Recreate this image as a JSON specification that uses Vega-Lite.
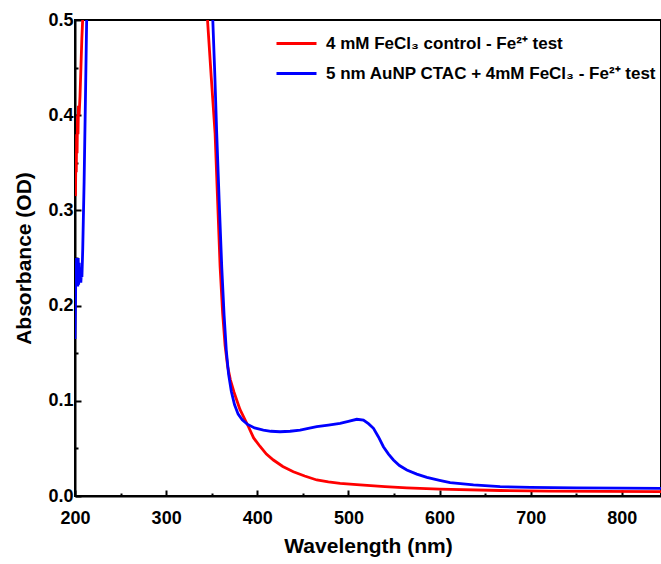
{
  "$schema": "https://vega.github.io/schema/vega-lite/v6.json",
  "width": 586,
  "height": 476,
  "autosize": {"type": "none"},
  "padding": {"left": 75, "top": 20, "right": 0, "bottom": 68},
  "background": "white",
  "config": {
    "view": {"stroke": "black", "strokeWidth": 2},
    "font": "Liberation Sans"
  },
  "datasets": {
    "spectra": [
      {"series": "4 mM FeCl₃ control - Fe²⁺ test", "nm": 200.5, "abs": 0.315},
      {"series": "4 mM FeCl₃ control - Fe²⁺ test", "nm": 201.0, "abs": 0.36},
      {"series": "4 mM FeCl₃ control - Fe²⁺ test", "nm": 201.4, "abs": 0.34},
      {"series": "4 mM FeCl₃ control - Fe²⁺ test", "nm": 201.8, "abs": 0.38},
      {"series": "4 mM FeCl₃ control - Fe²⁺ test", "nm": 202.3, "abs": 0.36},
      {"series": "4 mM FeCl₃ control - Fe²⁺ test", "nm": 202.8, "abs": 0.40},
      {"series": "4 mM FeCl₃ control - Fe²⁺ test", "nm": 203.3, "abs": 0.38},
      {"series": "4 mM FeCl₃ control - Fe²⁺ test", "nm": 203.8, "abs": 0.41},
      {"series": "4 mM FeCl₃ control - Fe²⁺ test", "nm": 204.5, "abs": 0.40},
      {"series": "4 mM FeCl₃ control - Fe²⁺ test", "nm": 205.5, "abs": 0.42},
      {"series": "4 mM FeCl₃ control - Fe²⁺ test", "nm": 206.5, "abs": 0.45},
      {"series": "4 mM FeCl₃ control - Fe²⁺ test", "nm": 207.5, "abs": 0.48},
      {"series": "4 mM FeCl₃ control - Fe²⁺ test", "nm": 208.4, "abs": 0.5},
      {"series": "4 mM FeCl₃ control - Fe²⁺ test", "nm": 209.5, "abs": 0.6},
      {"series": "4 mM FeCl₃ control - Fe²⁺ test", "nm": 211, "abs": 0.9},
      {"series": "4 mM FeCl₃ control - Fe²⁺ test", "nm": 215, "abs": 2.0},
      {"series": "4 mM FeCl₃ control - Fe²⁺ test", "nm": 300, "abs": 3.0},
      {"series": "4 mM FeCl₃ control - Fe²⁺ test", "nm": 340, "abs": 2.0},
      {"series": "4 mM FeCl₃ control - Fe²⁺ test", "nm": 343, "abs": 0.7},
      {"series": "4 mM FeCl₃ control - Fe²⁺ test", "nm": 345.4, "abs": 0.5},
      {"series": "4 mM FeCl₃ control - Fe²⁺ test", "nm": 349.5, "abs": 0.44},
      {"series": "4 mM FeCl₃ control - Fe²⁺ test", "nm": 353.7, "abs": 0.381},
      {"series": "4 mM FeCl₃ control - Fe²⁺ test", "nm": 356.5, "abs": 0.31},
      {"series": "4 mM FeCl₃ control - Fe²⁺ test", "nm": 359.2, "abs": 0.241},
      {"series": "4 mM FeCl₃ control - Fe²⁺ test", "nm": 362, "abs": 0.192},
      {"series": "4 mM FeCl₃ control - Fe²⁺ test", "nm": 364.7, "abs": 0.158},
      {"series": "4 mM FeCl₃ control - Fe²⁺ test", "nm": 367.5, "abs": 0.136},
      {"series": "4 mM FeCl₃ control - Fe²⁺ test", "nm": 370.5, "abs": 0.122},
      {"series": "4 mM FeCl₃ control - Fe²⁺ test", "nm": 374.5, "abs": 0.109},
      {"series": "4 mM FeCl₃ control - Fe²⁺ test", "nm": 381, "abs": 0.091},
      {"series": "4 mM FeCl₃ control - Fe²⁺ test", "nm": 390.2, "abs": 0.073},
      {"series": "4 mM FeCl₃ control - Fe²⁺ test", "nm": 396, "abs": 0.061},
      {"series": "4 mM FeCl₃ control - Fe²⁺ test", "nm": 403.1, "abs": 0.052},
      {"series": "4 mM FeCl₃ control - Fe²⁺ test", "nm": 410, "abs": 0.044},
      {"series": "4 mM FeCl₃ control - Fe²⁺ test", "nm": 417.7, "abs": 0.0378},
      {"series": "4 mM FeCl₃ control - Fe²⁺ test", "nm": 428, "abs": 0.031},
      {"series": "4 mM FeCl₃ control - Fe²⁺ test", "nm": 439.6, "abs": 0.0255},
      {"series": "4 mM FeCl₃ control - Fe²⁺ test", "nm": 452, "abs": 0.021},
      {"series": "4 mM FeCl₃ control - Fe²⁺ test", "nm": 465.3, "abs": 0.0168},
      {"series": "4 mM FeCl₃ control - Fe²⁺ test", "nm": 478, "abs": 0.0148},
      {"series": "4 mM FeCl₃ control - Fe²⁺ test", "nm": 490.9, "abs": 0.0133},
      {"series": "4 mM FeCl₃ control - Fe²⁺ test", "nm": 512.8, "abs": 0.0116},
      {"series": "4 mM FeCl₃ control - Fe²⁺ test", "nm": 540, "abs": 0.0098},
      {"series": "4 mM FeCl₃ control - Fe²⁺ test", "nm": 564.1, "abs": 0.0085},
      {"series": "4 mM FeCl₃ control - Fe²⁺ test", "nm": 600, "abs": 0.0072},
      {"series": "4 mM FeCl₃ control - Fe²⁺ test", "nm": 666.5, "abs": 0.0058},
      {"series": "4 mM FeCl₃ control - Fe²⁺ test", "nm": 720, "abs": 0.0052},
      {"series": "4 mM FeCl₃ control - Fe²⁺ test", "nm": 780, "abs": 0.0048},
      {"series": "4 mM FeCl₃ control - Fe²⁺ test", "nm": 843, "abs": 0.0045},

      {"series": "5 nm AuNP CTAC + 4mM FeCl₃ - Fe²⁺ test", "nm": 200.0, "abs": 0.165},
      {"series": "5 nm AuNP CTAC + 4mM FeCl₃ - Fe²⁺ test", "nm": 200.5, "abs": 0.2},
      {"series": "5 nm AuNP CTAC + 4mM FeCl₃ - Fe²⁺ test", "nm": 201.0, "abs": 0.245},
      {"series": "5 nm AuNP CTAC + 4mM FeCl₃ - Fe²⁺ test", "nm": 201.3, "abs": 0.22},
      {"series": "5 nm AuNP CTAC + 4mM FeCl₃ - Fe²⁺ test", "nm": 201.7, "abs": 0.25},
      {"series": "5 nm AuNP CTAC + 4mM FeCl₃ - Fe²⁺ test", "nm": 202.1, "abs": 0.222},
      {"series": "5 nm AuNP CTAC + 4mM FeCl₃ - Fe²⁺ test", "nm": 202.5, "abs": 0.248},
      {"series": "5 nm AuNP CTAC + 4mM FeCl₃ - Fe²⁺ test", "nm": 203.0, "abs": 0.22},
      {"series": "5 nm AuNP CTAC + 4mM FeCl₃ - Fe²⁺ test", "nm": 203.5, "abs": 0.25},
      {"series": "5 nm AuNP CTAC + 4mM FeCl₃ - Fe²⁺ test", "nm": 204.0, "abs": 0.222},
      {"series": "5 nm AuNP CTAC + 4mM FeCl₃ - Fe²⁺ test", "nm": 204.6, "abs": 0.245},
      {"series": "5 nm AuNP CTAC + 4mM FeCl₃ - Fe²⁺ test", "nm": 205.2, "abs": 0.225},
      {"series": "5 nm AuNP CTAC + 4mM FeCl₃ - Fe²⁺ test", "nm": 205.8, "abs": 0.24},
      {"series": "5 nm AuNP CTAC + 4mM FeCl₃ - Fe²⁺ test", "nm": 206.4, "abs": 0.224},
      {"series": "5 nm AuNP CTAC + 4mM FeCl₃ - Fe²⁺ test", "nm": 207.0, "abs": 0.235},
      {"series": "5 nm AuNP CTAC + 4mM FeCl₃ - Fe²⁺ test", "nm": 207.6, "abs": 0.23},
      {"series": "5 nm AuNP CTAC + 4mM FeCl₃ - Fe²⁺ test", "nm": 208.5, "abs": 0.26},
      {"series": "5 nm AuNP CTAC + 4mM FeCl₃ - Fe²⁺ test", "nm": 210.0, "abs": 0.33},
      {"series": "5 nm AuNP CTAC + 4mM FeCl₃ - Fe²⁺ test", "nm": 211.5, "abs": 0.42},
      {"series": "5 nm AuNP CTAC + 4mM FeCl₃ - Fe²⁺ test", "nm": 212.8, "abs": 0.5},
      {"series": "5 nm AuNP CTAC + 4mM FeCl₃ - Fe²⁺ test", "nm": 214, "abs": 0.7},
      {"series": "5 nm AuNP CTAC + 4mM FeCl₃ - Fe²⁺ test", "nm": 217, "abs": 1.5},
      {"series": "5 nm AuNP CTAC + 4mM FeCl₃ - Fe²⁺ test", "nm": 300, "abs": 3.0},
      {"series": "5 nm AuNP CTAC + 4mM FeCl₃ - Fe²⁺ test", "nm": 345, "abs": 1.5},
      {"series": "5 nm AuNP CTAC + 4mM FeCl₃ - Fe²⁺ test", "nm": 348.5, "abs": 0.7},
      {"series": "5 nm AuNP CTAC + 4mM FeCl₃ - Fe²⁺ test", "nm": 351.2, "abs": 0.5},
      {"series": "5 nm AuNP CTAC + 4mM FeCl₃ - Fe²⁺ test", "nm": 353.5, "abs": 0.44},
      {"series": "5 nm AuNP CTAC + 4mM FeCl₃ - Fe²⁺ test", "nm": 355.5, "abs": 0.381},
      {"series": "5 nm AuNP CTAC + 4mM FeCl₃ - Fe²⁺ test", "nm": 358.2, "abs": 0.31},
      {"series": "5 nm AuNP CTAC + 4mM FeCl₃ - Fe²⁺ test", "nm": 361.0, "abs": 0.241},
      {"series": "5 nm AuNP CTAC + 4mM FeCl₃ - Fe²⁺ test", "nm": 363.6, "abs": 0.19},
      {"series": "5 nm AuNP CTAC + 4mM FeCl₃ - Fe²⁺ test", "nm": 366, "abs": 0.153},
      {"series": "5 nm AuNP CTAC + 4mM FeCl₃ - Fe²⁺ test", "nm": 368.5, "abs": 0.128},
      {"series": "5 nm AuNP CTAC + 4mM FeCl₃ - Fe²⁺ test", "nm": 371.5, "abs": 0.11},
      {"series": "5 nm AuNP CTAC + 4mM FeCl₃ - Fe²⁺ test", "nm": 375, "abs": 0.096},
      {"series": "5 nm AuNP CTAC + 4mM FeCl₃ - Fe²⁺ test", "nm": 379, "abs": 0.086},
      {"series": "5 nm AuNP CTAC + 4mM FeCl₃ - Fe²⁺ test", "nm": 383.5, "abs": 0.08},
      {"series": "5 nm AuNP CTAC + 4mM FeCl₃ - Fe²⁺ test", "nm": 389, "abs": 0.0755},
      {"series": "5 nm AuNP CTAC + 4mM FeCl₃ - Fe²⁺ test", "nm": 397, "abs": 0.0715},
      {"series": "5 nm AuNP CTAC + 4mM FeCl₃ - Fe²⁺ test", "nm": 406.7, "abs": 0.0693},
      {"series": "5 nm AuNP CTAC + 4mM FeCl₃ - Fe²⁺ test", "nm": 415, "abs": 0.068},
      {"series": "5 nm AuNP CTAC + 4mM FeCl₃ - Fe²⁺ test", "nm": 425, "abs": 0.0675},
      {"series": "5 nm AuNP CTAC + 4mM FeCl₃ - Fe²⁺ test", "nm": 436, "abs": 0.068},
      {"series": "5 nm AuNP CTAC + 4mM FeCl₃ - Fe²⁺ test", "nm": 447, "abs": 0.0693},
      {"series": "5 nm AuNP CTAC + 4mM FeCl₃ - Fe²⁺ test", "nm": 456, "abs": 0.071},
      {"series": "5 nm AuNP CTAC + 4mM FeCl₃ - Fe²⁺ test", "nm": 465.3, "abs": 0.0728},
      {"series": "5 nm AuNP CTAC + 4mM FeCl₃ - Fe²⁺ test", "nm": 478, "abs": 0.0745},
      {"series": "5 nm AuNP CTAC + 4mM FeCl₃ - Fe²⁺ test", "nm": 490.9, "abs": 0.0764},
      {"series": "5 nm AuNP CTAC + 4mM FeCl₃ - Fe²⁺ test", "nm": 500, "abs": 0.0785},
      {"series": "5 nm AuNP CTAC + 4mM FeCl₃ - Fe²⁺ test", "nm": 509.2, "abs": 0.0806},
      {"series": "5 nm AuNP CTAC + 4mM FeCl₃ - Fe²⁺ test", "nm": 516.5, "abs": 0.0798},
      {"series": "5 nm AuNP CTAC + 4mM FeCl₃ - Fe²⁺ test", "nm": 522, "abs": 0.076},
      {"series": "5 nm AuNP CTAC + 4mM FeCl₃ - Fe²⁺ test", "nm": 527.5, "abs": 0.0711},
      {"series": "5 nm AuNP CTAC + 4mM FeCl₃ - Fe²⁺ test", "nm": 533, "abs": 0.062},
      {"series": "5 nm AuNP CTAC + 4mM FeCl₃ - Fe²⁺ test", "nm": 538.4, "abs": 0.0518},
      {"series": "5 nm AuNP CTAC + 4mM FeCl₃ - Fe²⁺ test", "nm": 544, "abs": 0.044},
      {"series": "5 nm AuNP CTAC + 4mM FeCl₃ - Fe²⁺ test", "nm": 549.4, "abs": 0.0378},
      {"series": "5 nm AuNP CTAC + 4mM FeCl₃ - Fe²⁺ test", "nm": 556, "abs": 0.032},
      {"series": "5 nm AuNP CTAC + 4mM FeCl₃ - Fe²⁺ test", "nm": 564.1, "abs": 0.0273},
      {"series": "5 nm AuNP CTAC + 4mM FeCl₃ - Fe²⁺ test", "nm": 575, "abs": 0.023},
      {"series": "5 nm AuNP CTAC + 4mM FeCl₃ - Fe²⁺ test", "nm": 586.1, "abs": 0.0196},
      {"series": "5 nm AuNP CTAC + 4mM FeCl₃ - Fe²⁺ test", "nm": 600, "abs": 0.0165},
      {"series": "5 nm AuNP CTAC + 4mM FeCl₃ - Fe²⁺ test", "nm": 611.6, "abs": 0.014},
      {"series": "5 nm AuNP CTAC + 4mM FeCl₃ - Fe²⁺ test", "nm": 637.2, "abs": 0.0116},
      {"series": "5 nm AuNP CTAC + 4mM FeCl₃ - Fe²⁺ test", "nm": 666.5, "abs": 0.0098},
      {"series": "5 nm AuNP CTAC + 4mM FeCl₃ - Fe²⁺ test", "nm": 700, "abs": 0.009},
      {"series": "5 nm AuNP CTAC + 4mM FeCl₃ - Fe²⁺ test", "nm": 750, "abs": 0.0085},
      {"series": "5 nm AuNP CTAC + 4mM FeCl₃ - Fe²⁺ test", "nm": 800, "abs": 0.0082},
      {"series": "5 nm AuNP CTAC + 4mM FeCl₃ - Fe²⁺ test", "nm": 843, "abs": 0.008}
    ]
  },
  "data": {"name": "spectra"},
  "mark": {"type": "line", "clip": true, "strokeWidth": 2.8},
  "encoding": {
    "x": {
      "field": "nm",
      "type": "quantitative",
      "scale": {"domain": [200, 843], "nice": false, "zero": false},
      "axis": {
        "title": "Wavelength (nm)",
        "values": [200, 250, 300, 350, 400, 450, 500, 550, 600, 650, 700, 750, 800],
        "labelExpr": "datum.value % 100 == 0 ? datum.label : ''",
        "format": "d",
        "grid": false,
        "domainColor": "black",
        "domainWidth": 2,
        "tickColor": "black",
        "tickWidth": 2,
        "tickSize": {"condition": {"test": "datum.value % 100 != 0", "value": -3}, "value": -6},
        "labelFont": "Liberation Sans",
        "labelFontWeight": "bold",
        "labelFontSize": 18,
        "labelColor": "black",
        "labelPadding": 19,
        "labelFlush": false,
        "labelOverlap": false,
        "titleFont": "Liberation Sans",
        "titleFontWeight": "bold",
        "titleFontSize": 21,
        "titleColor": "black",
        "titlePadding": 5
      }
    },
    "y": {
      "field": "abs",
      "type": "quantitative",
      "scale": {"domain": [0, 0.5], "nice": false},
      "axis": {
        "title": "Absorbance (OD)",
        "values": [0, 0.05, 0.1, 0.15, 0.2, 0.25, 0.3, 0.35, 0.4, 0.45, 0.5],
        "labelExpr": "round(datum.value * 100) % 10 == 0 ? format(datum.value, '.1f') : ''",
        "grid": false,
        "domainColor": "black",
        "domainWidth": 2,
        "tickColor": "black",
        "tickWidth": 2,
        "tickSize": {"condition": {"test": "round(datum.value * 100) % 10 != 0", "value": -3}, "value": -6},
        "labelFont": "Liberation Sans",
        "labelFontWeight": "bold",
        "labelFontSize": 18,
        "labelColor": "black",
        "labelPadding": 8,
        "labelFlush": false,
        "labelOverlap": false,
        "titleFont": "Liberation Sans",
        "titleFontWeight": "bold",
        "titleFontSize": 21,
        "titleColor": "black",
        "titlePadding": 13
      }
    },
    "color": {
      "field": "series",
      "type": "nominal",
      "scale": {
        "domain": ["4 mM FeCl₃ control - Fe²⁺ test", "5 nm AuNP CTAC + 4mM FeCl₃ - Fe²⁺ test"],
        "range": ["#ff0000", "#0000ff"]
      },
      "legend": {
        "title": null,
        "orient": "none",
        "legendX": 200,
        "legendY": 2,
        "symbolType": "stroke",
        "symbolSize": 1600,
        "symbolStrokeWidth": 3,
        "labelFont": "Liberation Sans",
        "labelFontWeight": "bold",
        "labelFontSize": 17,
        "labelColor": "black",
        "labelOffset": 8,
        "labelLimit": 400,
        "rowPadding": -1,
        "padding": 0
      }
    }
  }
}
